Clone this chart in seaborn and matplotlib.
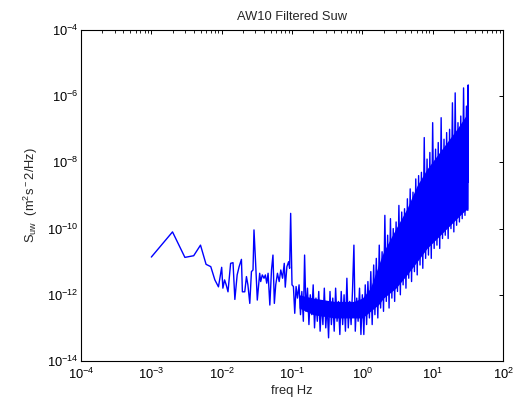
import numpy as np
import pandas as pd
import matplotlib
matplotlib.use("Agg")
import matplotlib.pyplot as plt
import seaborn as sns
from matplotlib.ticker import LogLocator, NullFormatter, NullLocator, FixedLocator, LogFormatterSciNotation

# ---------------- data (PSD stored as log10) ----------------
sparse_freq = [0.001, 0.002, 0.003, 0.004, 0.005, 0.006, 0.007, 0.008, 0.009, 0.010,
               0.0104, 0.0110, 0.0116, 0.0123, 0.0134, 0.0145, 0.0154, 0.0166, 0.0177, 0.0191,
               0.0197, 0.0213, 0.0225, 0.0236, 0.0251, 0.0265, 0.0279, 0.0288, 0.0304, 0.0321,
               0.0347, 0.0359, 0.0378, 0.0400, 0.0418, 0.0437, 0.0457, 0.0484, 0.0511, 0.0536,
               0.0561, 0.0587, 0.0621, 0.0657, 0.0693, 0.0734, 0.0776, 0.0802, 0.0846, 0.0895,
               0.0925, 0.0957, 0.100, 0.1047, 0.1094, 0.1143, 0.1196]
sparse_log_psd = [-10.86, -10.10, -10.87, -10.82, -10.50, -11.08, -11.15, -11.55, -11.76, -11.17,
                  -11.80, -11.55, -11.70, -11.91, -11.05, -11.03, -12.14, -11.40, -11.15, -10.93,
                  -11.91, -11.91, -11.45, -11.70, -12.26, -11.30, -11.25, -10.04, -11.05, -12.16,
                  -11.35, -11.60, -11.40, -11.50, -11.40, -11.65, -11.35, -12.31, -11.25, -10.80,
                  -12.26, -11.70, -11.35, -11.60, -11.25, -11.50, -11.05, -11.77, -11.15, -11.00,
                  -11.20, -9.54, -11.70, -11.75, -12.56, -11.75, -12.10]

dense_freq = [0.126, 0.132, 0.138, 0.145, 0.151, 0.158, 0.166, 0.174, 0.182, 0.191,
              0.200, 0.209, 0.219, 0.229, 0.240, 0.251, 0.263, 0.275, 0.288, 0.302,
              0.316, 0.331, 0.347, 0.363, 0.380, 0.398, 0.417, 0.437, 0.457, 0.479,
              0.501, 0.525, 0.550, 0.575, 0.603, 0.631, 0.661, 0.692, 0.724, 0.759,
              0.794, 0.832, 0.871, 0.912, 0.955, 1.00, 1.05, 1.10, 1.15, 1.20,
              1.26, 1.32, 1.38, 1.45, 1.51, 1.58, 1.66, 1.74, 1.82, 1.91,
              2.00, 2.09, 2.19, 2.29, 2.40, 2.51, 2.63, 2.75, 2.88, 3.02,
              3.16, 3.31, 3.47, 3.63, 3.80, 3.98, 4.17, 4.37, 4.57, 4.79,
              5.01, 5.25, 5.50, 5.75, 6.03, 6.31, 6.61, 6.92, 7.24, 7.59,
              7.94, 8.32, 8.71, 9.12, 9.55, 10.0, 10.5, 11.0, 11.5, 12.0,
              12.6, 13.2, 13.8, 14.5, 15.1, 15.8, 16.6, 17.4, 18.2, 19.1,
              20.0, 20.9, 21.9, 22.9, 24.0, 25.1, 26.3, 27.5, 28.8, 30.2,
              31.6, 32.0, 32.0]
dense_log_psd = [-11.7, -12.6, -11.9, -12.8, -10.8, -12.5, -11.8, -12.9, -12.0, -12.6,
                 -11.7, -13.0, -12.1, -12.8, -11.9, -13.1, -12.2, -12.9, -11.8, -13.0,
                 -12.3, -13.3, -11.9, -12.9, -12.1, -13.1, -11.8, -12.8, -12.2, -13.2,
                 -11.9, -12.9, -12.0, -13.1, -11.5, -13.0, -12.2, -12.9, -11.9, -10.5,
                 -13.1, -12.1, -12.8, -11.8, -13.2, -12.0, -13.2, -11.7, -12.9, -11.6,
                 -12.7, -11.3, -12.9, -11.1, -12.6, -10.9, -12.7, -10.5, -12.4, -10.7,
                 -12.5, -9.6, -12.2, -10.2, -12.4, -9.7, -12.1, -10.0, -12.2, -9.8,
                 -11.9, -9.3, -12.0, -9.5, -11.7, -9.4, -11.8, -9.1, -11.5, -8.8,
                 -11.6, -8.9, -11.3, -8.5, -11.4, -8.4, -11.1, -8.3, -11.2, -7.25,
                 -10.9, -7.9, -10.8, -7.7, -10.9, -6.8, -10.6, -7.6, -10.5, -7.4,
                 -10.6, -6.65, -10.3, -7.3, -10.2, -7.1, -10.3, -7.0, -10.0, -6.2,
                 -10.1, -5.9, -9.9, -6.8, -9.8, -6.6, -9.7, -5.75, -9.6, -6.3,
                 -9.45, -5.66, -8.6]

band_freq = [0.126, 0.2, 0.4, 0.75, 1.0, 1.3, 1.7, 2.0, 3.0, 4.3,
             6.0, 8.3, 11.5, 15.9, 22.0, 27.4, 31.6]
band_log_hi = [-12.0, -12.1, -12.2, -12.2, -12.1, -11.8, -11.1, -10.7, -10.0, -9.4,
               -8.7, -8.2, -7.8, -7.4, -7.0, -6.7, -6.5]
band_log_lo = [-12.4, -12.6, -12.7, -12.7, -12.7, -12.5, -12.3, -12.1, -11.8, -11.4,
               -11.0, -10.6, -10.3, -10.0, -9.7, -9.5, -9.4]

x_ticks = [1e-4, 1e-3, 1e-2, 1e-1, 1e0, 1e1, 1e2]
y_ticks = [1e-14, 1e-12, 1e-10, 1e-8, 1e-6, 1e-4]

title = "AW10 Filtered Suw"
xlabel = "freq Hz"
ylabel = "S$_{uw}$  (m$^2$s$^-$2/Hz)"

# ---------------- style ----------------
sns.set_style("white")
plt.rcParams.update({
    "font.family": ["Liberation Sans", "DejaVu Sans"],
    "mathtext.default": "regular",
    "font.size": 9.3,
    "axes.edgecolor": "black",
    "axes.linewidth": 0.8,
})

fig = plt.figure(figsize=(5.15, 4.01), dpi=100)
ax = fig.add_axes([0.1573, 0.0998, 0.8194, 0.8254])

df = pd.DataFrame({
    "freq": sparse_freq + dense_freq,
    "psd": np.power(10.0, np.array(sparse_log_psd + dense_log_psd)),
})

ax.fill_between(band_freq, np.power(10.0, np.array(band_log_lo)),
                np.power(10.0, np.array(band_log_hi)), color="#0000ff", lw=0)
sns.lineplot(data=df, x="freq", y="psd", sort=False, estimator=None,
             color="#0000ff", lw=1.0, ax=ax)

ax.set_xscale("log")
ax.set_yscale("log")
ax.set_xlim(1e-4, 1e2)
ax.set_ylim(1e-14, 1e-4)

ax.xaxis.set_major_locator(FixedLocator(x_ticks))
ax.xaxis.set_major_formatter(LogFormatterSciNotation())
ax.xaxis.set_minor_locator(LogLocator(base=10, subs=np.arange(2, 10), numticks=200))
ax.xaxis.set_minor_formatter(NullFormatter())
ax.yaxis.set_major_locator(FixedLocator(y_ticks))
ax.yaxis.set_major_formatter(LogFormatterSciNotation())
ax.yaxis.set_minor_locator(NullLocator())

ax.tick_params(which="both", direction="in", top=True, right=True, color="black",
               labelsize=9.3, labelcolor="black")
ax.tick_params(which="major", length=3, width=0.7)
ax.tick_params(which="minor", length=1.8, width=0.6)
ax.tick_params(axis="x", pad=4)
ax.tick_params(axis="y", pad=2)

ax.set_title(title, fontsize=9.3, pad=7)
ax.set_xlabel(xlabel, fontsize=9.3, labelpad=2)
ax.set_ylabel(ylabel, fontsize=9.3, labelpad=5)
for s in ax.spines.values():
    s.set_visible(True)
    s.set_color("black")

fig.savefig("out.png", dpi=100, facecolor="white")
